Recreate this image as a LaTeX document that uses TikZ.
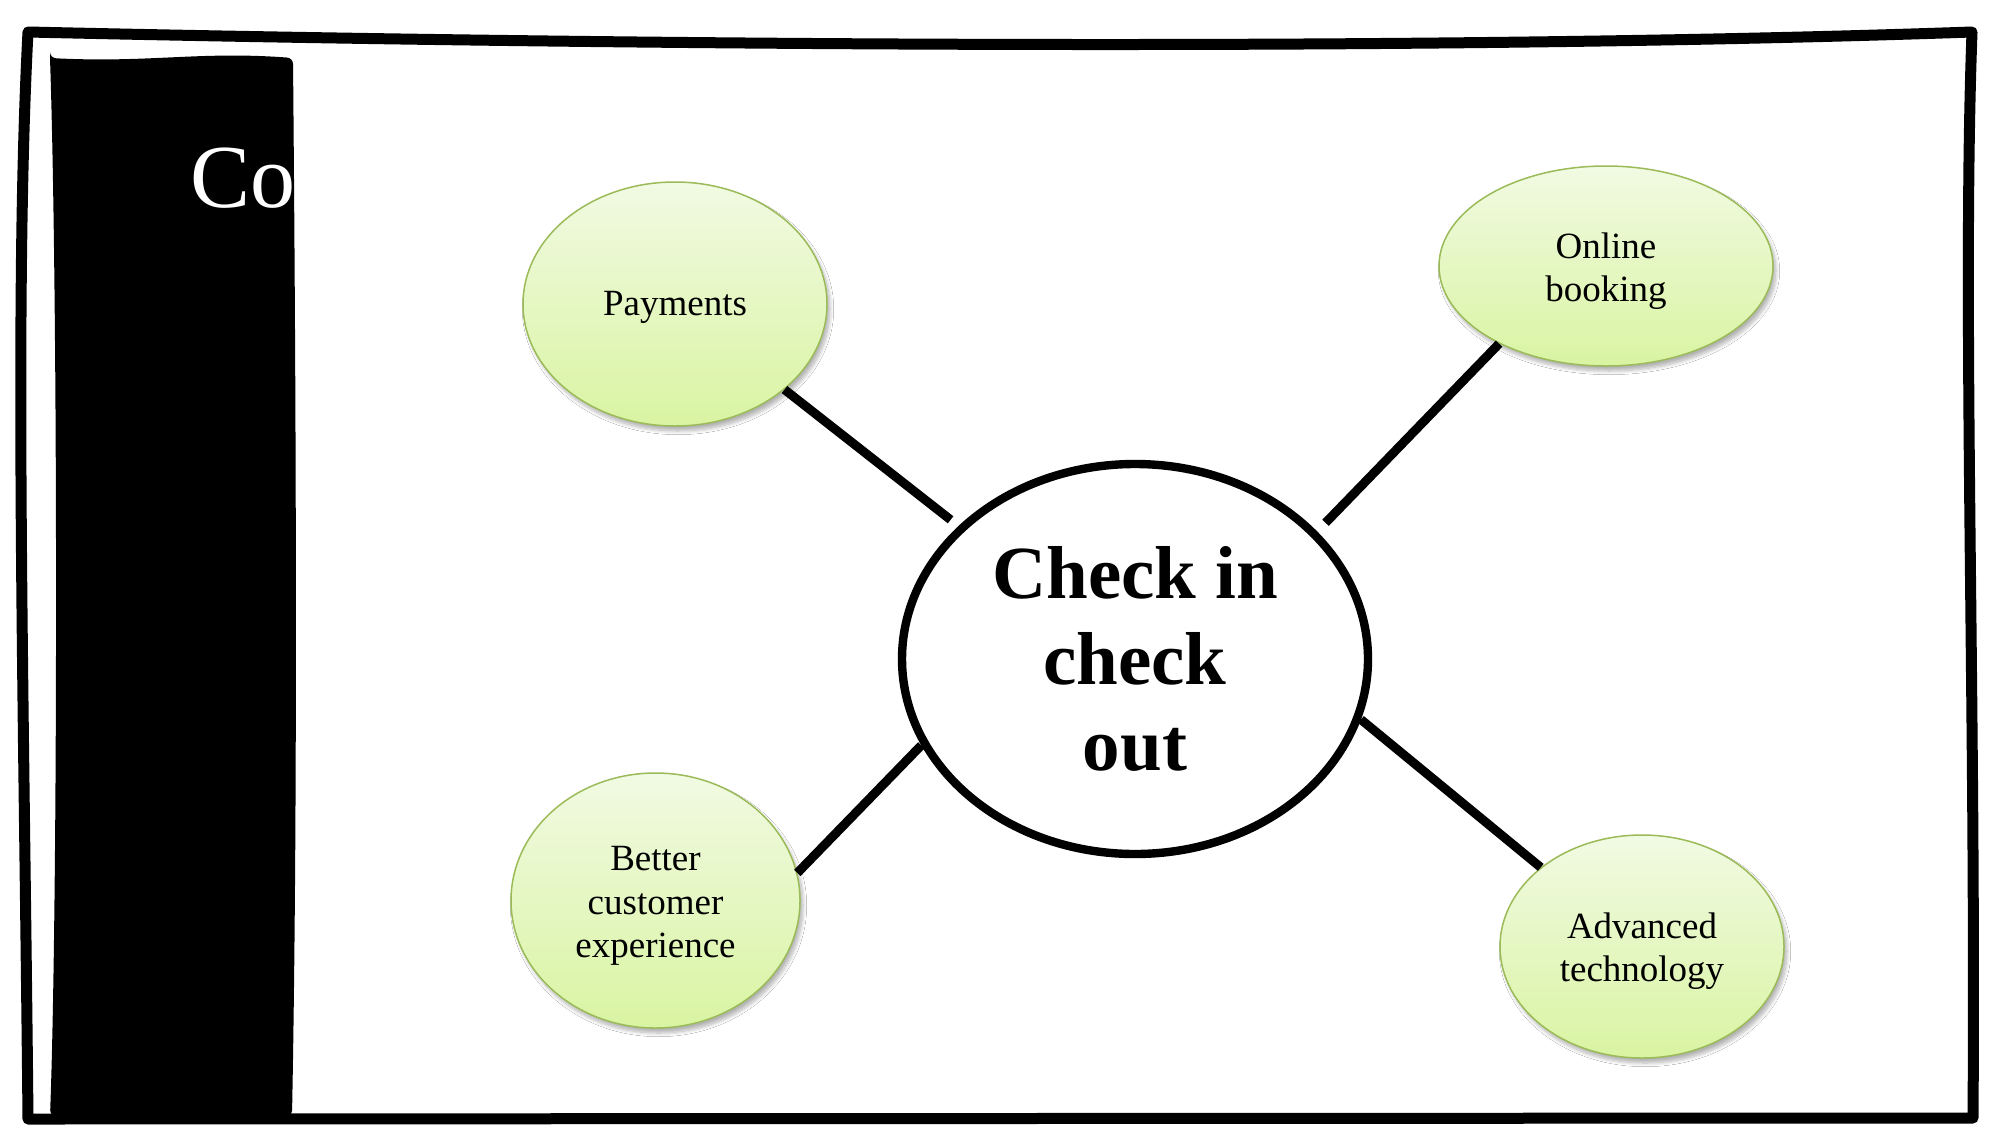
\documentclass[tikz,border=0pt]{standalone}
\usepackage{fontspec}
\setmainfont{Liberation Serif}
\usetikzlibrary{shapes.geometric,shadows.blur}
\definecolor{gtop}{HTML}{F1FAE3}
\definecolor{gbot}{HTML}{D9F4A2}
\definecolor{gedge}{HTML}{9BBB59}
\newcommand\bubtext[2][-2.5pt]{\raisebox{#1}[\height][\depth]{\begin{tabular}{@{}c@{}}#2\end{tabular}}}
\tikzset{
  bubble/.style={ellipse, draw=gedge, line width=0.75pt, top color=gtop, bottom color=gbot,
    inner sep=0pt, font=\fontsize{18.5}{21.6}\selectfont,
    blur shadow={shadow xshift=1.5pt, shadow yshift=-2.5pt, shadow opacity=30, shadow blur steps=8}},
  hub/.style={ellipse, draw=black, line width=4.2pt, fill=white, minimum width=233pt,
    minimum height=195pt, inner sep=0pt, align=center,
    font=\fontsize{37.5}{43}\selectfont\bfseries},
  conn/.style={line width=4.5pt, draw=black},
  frameline/.style={line width=5.5pt, line join=round, line cap=round, draw=black},
  cotext/.style={text=white, inner sep=0pt, anchor=base west, font=\fontsize{45}{50}\selectfont}
}
\begin{document}
\begin{tikzpicture}[x=0.5pt, y=-0.5pt]
  \fill[white] (0,0) rectangle (2001,1125);
  \useasboundingbox (0,0) rectangle (2001,1125);

  % outer sketchy frame
  \draw[frameline] (28,32) .. controls (600,45) and (1400,52) .. (1972,32)
    .. controls (1962,300) and (1976,700) .. (1973,1118)
    -- (28,1119)
    .. controls (24,700) and (14,300) .. (28,32) -- cycle;

  % black side bar
  \fill[black, rounded corners=3pt] (50,58) .. controls (150,63) and (200,51) .. (293,58)
    .. controls (296,400) and (298,800) .. (292,1116)
    -- (50,1116)
    .. controls (58,900) and (58,300) .. (50,58) -- cycle;
  \begin{scope}
    \clip (50,50) rectangle (293,1116);
    \node[cotext] (title) at (190,207) {Co};
  \end{scope}

  % nodes
  \node[hub] (c) at (1135,659) {Check in\\check\\out};
  \node[bubble, minimum width=152pt, minimum height=122pt] (pay) at (675,304) {\bubtext[-1.5pt]{Payments}};
  \node[bubble, minimum width=167pt, minimum height=100pt] (onl) at (1606,266) {\bubtext{Online\\booking}};
  \node[bubble, minimum width=144.5pt, minimum height=127.5pt] (bet) at (655.5,900.5) {\bubtext{Better\\customer\\experience}};
  \node[bubble, minimum width=142pt, minimum height=111.5pt] (adv) at (1642,946.5) {\bubtext{Advanced\\technology}};

  % connectors
  \draw[conn, shorten >=5pt] (pay.-38.4) -- (c.143.4);
  \draw[conn, shorten >=6pt] (onl.216.4) -- (c.35.8);
  \draw[conn] (bet.11.6) -- (c.202.5);
  \draw[conn] (adv.142) -- (c.-15.3);
\end{tikzpicture}
\end{document}
